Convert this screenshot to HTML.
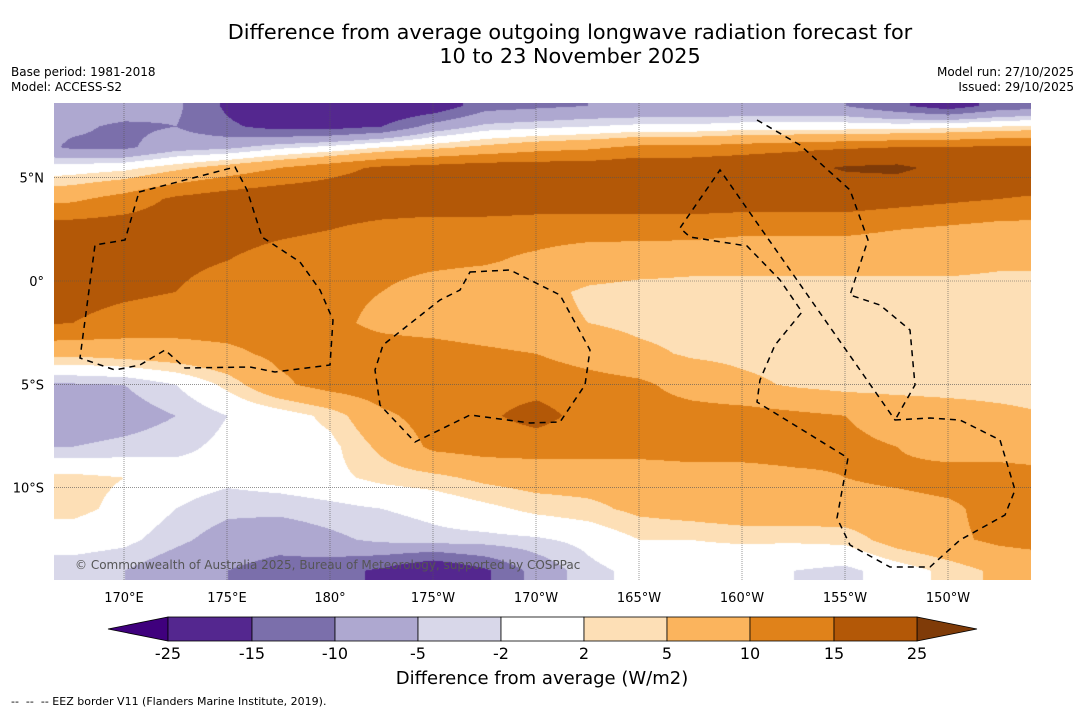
<!DOCTYPE html>
<html><head><meta charset="utf-8">
<style>
body{margin:0;width:1085px;height:713px;background:#fff;font-family:"DejaVu Sans","Liberation Sans",sans-serif;position:relative;overflow:hidden}
.t{position:absolute;white-space:nowrap;color:#000}
svg text{font-family:"DejaVu Sans","Liberation Sans",sans-serif}
</style></head><body>
<div class="t" style="left:120px;width:900px;top:21px;text-align:center;font-size:20.8px;line-height:23.5px">Difference from average outgoing longwave radiation forecast for<br>10 to 23 November 2025</div>
<div class="t" style="left:11px;top:65px;font-size:12px;line-height:15px">Base period: 1981-2018<br>Model: ACCESS-S2</div>
<div class="t" style="right:11px;top:65px;font-size:12px;line-height:15px;text-align:right">Model run: 27/10/2025<br>Issued: 29/10/2025</div>
<canvas id="map" width="977" height="477" style="position:absolute;left:54px;top:103px"></canvas>
<svg id="ov" width="1085" height="713" style="position:absolute;left:0;top:0"></svg>
<div class="t" style="left:75px;top:558px;font-size:12px;color:#555">© Commonwealth of Australia 2025, Bureau of Meteorology, supported by COSPPac</div>
<div class="t" style="left:342px;width:400px;text-align:center;top:668px;font-size:18px">Difference from average (W/m2)</div>
<div class="t" style="left:11px;top:695px;font-size:11px">--&nbsp; --&nbsp; -- EEZ border V11 (Flanders Marine Institute, 2019).</div>
<script>
const lons=[165,167.5,170,172.5,175,177.5,180,182.5,185,187.5,190,192.5,195,197.5,200,202.5,205,207.5,210,212.5,215];
const lats=[8.5,7.5,6.5,5.5,4,2.5,1,-0.5,-2,-3.5,-5,-6.5,-8,-9.5,-11,-12.5,-14];
const r0=[-7,-7,-7,-9,-16,-21,-21,-21,-19,-12,-11,-10,-10,-10,-10,-10,-10,-14,-18,-13,-12];
const r1=[-8,-9,-11,-10,-14,-17,-17,-15,-8,-4,-3,-2,-1,-1,0,0,0,0,1,2,3];
const r2=[-7,-11,-11,-7,-6,-3,-1,2,4,6,8,9,11,11,12,13,14,15,15,16,16];
const r3=[-1,0,1,4,7,10,13,16,17,18,18,18,19,19,20,22,26,27,22,20,20];
const r4=[8,9,12,16,18,19,19,19,19,19,18,18,18,18,18,18,18,17,16,15,14];
const r5=[18,18,18,18,17,16,15,13,12,12,12,12,12,12,11,11,11,10,9,8,8];
const r6=[18,18,17,16,15,13,12,11.5,11,10.5,9,7,6.5,6,6,6,6,6,6,5.5,5.5];
const r7=[18,17,16,15,13,12,11,10,8,7,6,4.5,4,4,4,4,4,4,4,4,4];
const r8=[16,15,13,12,12,12,11,9,8,7,6,5,4,3.5,3.5,3.5,3.5,3.5,3.5,3.5,3.5];
const r9=[6,6,7,8,9,11,12,12,12,11,10,8,6,4.5,4,3.5,3.5,3.5,3.5,3,2];
const r10=[-5.5,-5.5,-5,-2,3,9,12,13,13,13,13,12,11,8,6,4.5,3.5,3.5,3.5,3.5,3.5];
const r11=[-8,-8,-7,-5,-2,0,3,9,12,14,17,13,12,12,12,11,10,8,7,6,5];
const r12=[-5,-5,-4,-3,-1,0,1,6,11,12,12,12,12,12,12,12,11,10,8,8,8];
const r13=[3,3,2,0,-1,0,1,3,4,6,7,7,7,8,8,9,10,11,12,12,11];
const r14=[3,3,1,-2,-4,-4,-3,-2,-1,1,3,4,6,7,8,8,8,8,9,12,13];
const r15=[0,0,-1,-4,-7,-8,-6,-4,-3,-3,-2.5,-1,2,2,2.5,2.5,3,7,9,11,12];
const r16=[-4,-4,-5,-8,-10,-12,-13,-16,-21,-16,-8,-3,-1,0,-1,-2,-3,0,3,6,7];
const grid=[r0,r1,r2,r3,r4,r5,r6,r7,r8,r9,r10,r11,r12,r13,r14,r15,r16];
const levels=[-25,-15,-10,-5,-2,2,5,10,15,25];
const colors=["#3f007d","#54278f","#7b6fab","#aea8d0","#d8d7e9","#ffffff","#fddfb6","#fbb45d","#e0821a","#b35807","#7f3b08"];
const lonTicks=["170°E","175°E","180°","175°W","170°W","165°W","160°W","155°W","150°W"];
const lonTickVals=[170,175,180,185,190,195,200,205,210];
const latTicks=["5°N","0°","5°S","10°S"];
const latTickVals=[5,0,-5,-10];
const xOf=lon=>124+(lon-170)*20.6;
const yOf=lat=>281-lat*20.66;
function hex(c){return [parseInt(c.substr(1,2),16),parseInt(c.substr(3,2),16),parseInt(c.substr(5,2),16)];}
const rgb=colors.map(hex);
function val(lon,lat){
  let i=0;while(i<lons.length-2&&lon>lons[i+1])i++;
  let tx=Math.max(0,Math.min(1,(lon-lons[i])/(lons[i+1]-lons[i])));
  let j=0;while(j<lats.length-2&&lat<lats[j+1])j++;
  let ty=Math.max(0,Math.min(1,(lats[j]-lat)/(lats[j]-lats[j+1])));
  const a=grid[j][i],b=grid[j][i+1],c=grid[j+1][i],d=grid[j+1][i+1];
  return (a*(1-tx)+b*tx)*(1-ty)+(c*(1-tx)+d*tx)*ty;
}
const cv=document.getElementById('map'),ctx=cv.getContext('2d');
const im=ctx.createImageData(977,477);
for(let py=0;py<477;py++){const lat=(281-(py+103))/20.66;
 for(let px=0;px<977;px++){const lon=170+((px+54)-124)/20.6;
  const v=val(lon,lat);let k=0;while(k<levels.length&&v>=levels[k])k++;
  const c=rgb[k],o=(py*977+px)*4;im.data[o]=c[0];im.data[o+1]=c[1];im.data[o+2]=c[2];im.data[o+3]=255;}}
ctx.putImageData(im,0,0);
const NS='http://www.w3.org/2000/svg',ov=document.getElementById('ov');
function mk(t,a,p){const e=document.createElementNS(NS,t);for(const k in a)e.setAttribute(k,a[k]);(p||ov).appendChild(e);return e;}
lonTickVals.forEach((v,i)=>{const x=xOf(v);
 const l=mk('line',{x1:x,x2:x,y1:103,y2:580,stroke:'#555','stroke-width':0.6,'stroke-dasharray':'1,1'});
 
 
 const t=mk('text',{x:x,y:602,'text-anchor':'middle','font-size':13});t.textContent=lonTicks[i];
 
 });
latTickVals.forEach((v,i)=>{const y=yOf(v);
 const l=mk('line',{x1:54,x2:1031,y1:y,y2:y,stroke:'#555','stroke-width':0.6,'stroke-dasharray':'1,1'});
 
 
 const t=mk('text',{x:44,y:y+5,'text-anchor':'end','font-size':13});t.textContent=latTicks[i];
 
 });
const eez=[
"M139,192 L235,167 L247,190 L262,237 L300,262 L320,290 L333,320 L330,365 L275,372 L250,367 L185,368 L165,350 L140,365 L115,370 L80,358 L95,245 L125,240 Z",
"M470,272 L510,270 L560,295 L590,350 L585,385 L560,422 L530,423 L470,415 L415,442 L380,405 L375,370 L383,345 L440,300 L460,290 Z",
"M757,120 L800,145 L850,190 L868,240 L850,295 L880,305 L910,330 L915,385 L895,420",
"M895,420 L930,418 L960,420 L1000,440 L1015,490 L1005,515 L960,540 L930,567 L890,567 L850,545 L837,518 L848,458 L757,402 L760,380 L775,345 L802,312 L780,280 L747,246 L690,237 L680,228 L720,170 Z"];
eez.forEach(d=>{const p=mk('path',{d:d,fill:'none',stroke:'#000','stroke-width':1.5,'stroke-dasharray':'6,5'});
 
 });
const cbX=[168,252,335,418,501,584,667,750,834,917];
const cb=mk('g',{});
mk('polygon',{points:'108,629 168,617 168,641',fill:colors[0],stroke:'#000','stroke-width':0.8},cb);
mk('polygon',{points:'977,629 917,617 917,641',fill:colors[10],stroke:'#000','stroke-width':0.8},cb);
for(let i=0;i<9;i++){const r=mk('rect',{x:cbX[i],y:617,width:cbX[i+1]-cbX[i],height:24,fill:colors[i+1],stroke:'#000','stroke-width':0.8},cb);
 
 }
levels.forEach((v,i)=>{const t=mk('text',{x:cbX[i],y:659,'text-anchor':'middle','font-size':16},cb);t.textContent=v;
 
 });
</script>
</body></html>
